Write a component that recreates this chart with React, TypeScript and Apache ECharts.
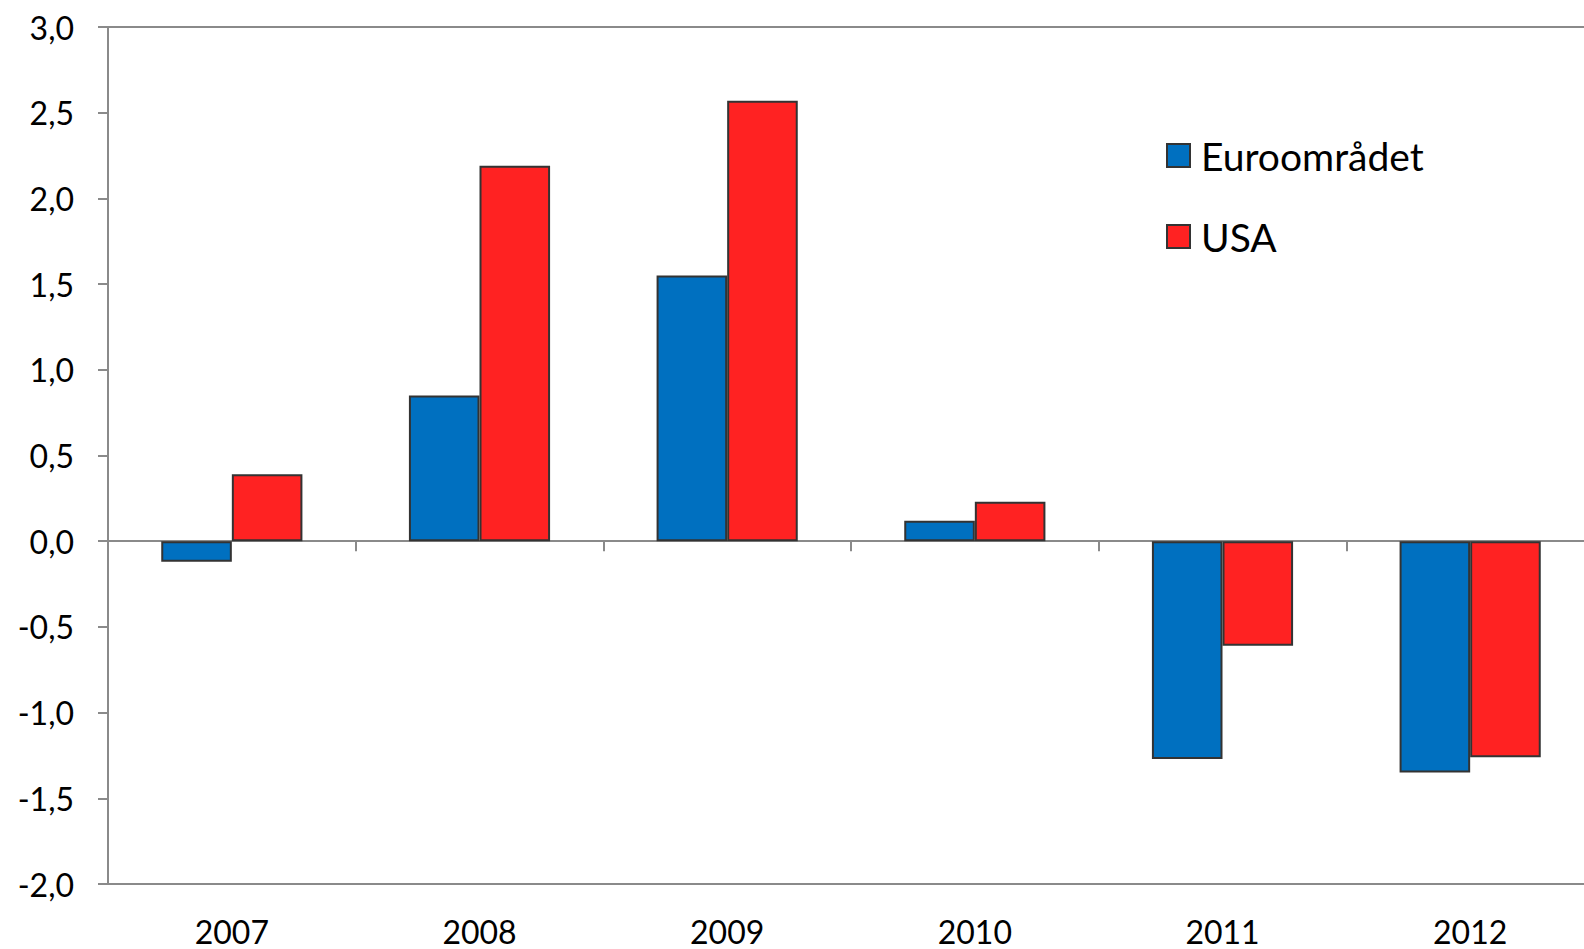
import React, { useEffect, useRef } from "react";
import * as echarts from "echarts";

const years = ["2007", "2008", "2009", "2010", "2011", "2012"];
const euroValues = [-0.12, 0.85, 1.55, 0.12, -1.27, -1.35];
const usaValues = [0.39, 2.19, 2.57, 0.23, -0.61, -1.26];
const seriesNames = ["Euroområdet", "USA"];

const FONT = "Lato, 'Open Sans', sans-serif";
const AXIS_COLOR = "#8a8a8a";

export default function App() {
  const ref = useRef<HTMLDivElement>(null);
  useEffect(() => {
    if (!ref.current) return;
    const chart = echarts.init(ref.current, null, { renderer: "svg" });
    chart.setOption({
      animation: false,
      backgroundColor: "#ffffff",
      grid: { left: 108, top: 27, width: 1486, height: 857, containLabel: false },
      legend: {
        orient: "vertical",
        left: 1161,
        top: 131,
        itemWidth: 23,
        itemHeight: 23,
        itemGap: 42,
        icon: "rect",
        textStyle: { fontFamily: FONT, fontSize: 39, color: "#000", padding: [0, 0, 0, 6] },
        data: seriesNames,
      },
      xAxis: [
        {
          type: "category",
          data: years,
          position: "bottom",
          axisLine: { onZero: false, lineStyle: { color: AXIS_COLOR, width: 2 } },
          axisTick: { show: false },
          axisLabel: { fontFamily: FONT, fontSize: 32, color: "#000", margin: 31 },
        },
        {
          type: "category",
          data: years,
          position: "top",
          axisLine: { onZero: true, lineStyle: { color: AXIS_COLOR, width: 2 } },
          axisTick: { show: true, inside: true, length: 10, lineStyle: { color: AXIS_COLOR, width: 2 } },
          axisLabel: { show: false },
        },
      ],
      yAxis: {
        type: "value",
        min: -2,
        max: 3,
        interval: 0.5,
        axisLine: { show: true, lineStyle: { color: AXIS_COLOR, width: 2 } },
        axisTick: { show: true, length: 10, lineStyle: { color: AXIS_COLOR, width: 2 } },
        splitLine: { show: false },
        axisLabel: {
          fontFamily: FONT,
          fontSize: 32,
          color: "#000",
          margin: 34,
          formatter: (v: number) => v.toFixed(1).replace(".", ","),
        },
      },
      series: [
        {
          name: seriesNames[0],
          type: "bar",
          data: euroValues,
          barGap: "0%",
          barCategoryGap: "43%",
          itemStyle: { color: "#0070C0", borderColor: "#333333", borderWidth: 2 },
          markLine: {
            silent: true,
            symbol: "none",
            label: { show: false },
            lineStyle: { color: AXIS_COLOR, width: 2, type: "solid" },
            data: [{ yAxis: 3 }],
          },
        },
        {
          name: seriesNames[1],
          type: "bar",
          data: usaValues,
          barGap: "0%",
          barCategoryGap: "43%",
          itemStyle: { color: "#FF2222", borderColor: "#333333", borderWidth: 2 },
        },
      ],
    });
    return () => chart.dispose();
  }, []);
  return (
    <div
      style={{ position: "absolute", left: 0, top: 0, width: 1584, height: 949, overflow: "hidden", background: "#fff" }}
    >
      <div ref={ref} style={{ width: 1640, height: 949 }} />
    </div>
  );
}
